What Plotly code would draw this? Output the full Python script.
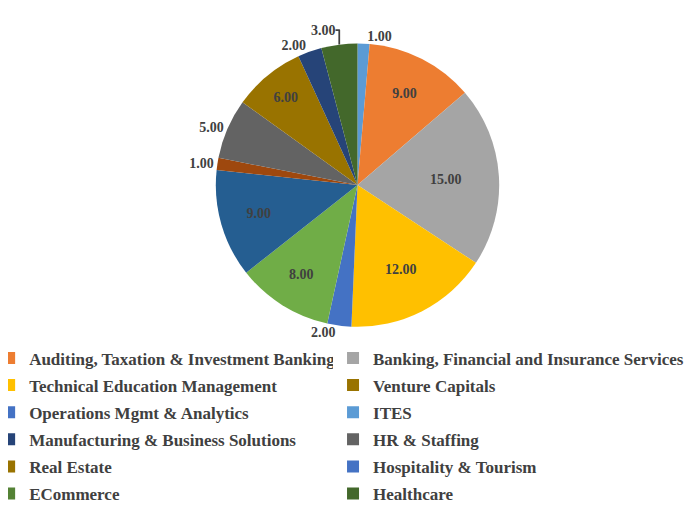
import plotly.graph_objects as go

# Pie slices (clockwise from 12 o'clock)
slice_labels = ["ITES", "Auditing, Taxation & Investment Banking",
                "Banking, Financial and Insurance Services", "Technical Education Management",
                "Operations Mgmt & Analytics", "ECommerce", "Hospitality & Tourism",
                "Venture Capitals", "HR & Staffing", "Real Estate",
                "Manufacturing & Business Solutions", "Healthcare"]
slice_values = [1, 9, 15, 12, 2, 8, 9, 1, 5, 6, 2, 3]
slice_colors = ["#5B9BD5", "#ED7D31", "#A5A5A5", "#FFC000", "#4472C4", "#70AD47",
                "#255E91", "#9E480E", "#636363", "#997300", "#264478", "#43682B"]
slice_textpos = ["outside", "inside", "inside", "inside", "outside", "inside",
                 "inside", "outside", "outside", "inside", "outside", "outside"]

# Legend entries, left column then right column
legend_left = ["Auditing, Taxation & Investment Banking", "Technical Education Management",
               "Operations Mgmt & Analytics", "Manufacturing & Business Solutions",
               "Real Estate", "ECommerce"]
legend_left_colors = ["#ED7D31", "#FFC000", "#4472C4", "#264478", "#997300", "#548235"]
legend_right = ["Banking, Financial and Insurance Services", "Venture Capitals", "ITES",
                "HR & Staffing", "Hospitality & Tourism", "Healthcare"]
legend_right_colors = ["#A5A5A5", "#997300", "#5B9BD5", "#636363", "#4472C4", "#43682B"]

fig = go.Figure()
fig.add_trace(go.Pie(
    labels=slice_labels, values=slice_values, sort=False, direction="clockwise",
    rotation=0, marker=dict(colors=slice_colors, line=dict(width=0)),
    texttemplate="%{value:.2f}", textposition=slice_textpos,
    textfont=dict(family="Liberation Serif", size=14, color="#404040", weight="bold"),
    insidetextfont=dict(family="Liberation Serif", size=14, color="#404040", weight="bold"),
    outsidetextfont=dict(family="Liberation Serif", size=14, color="#404040", weight="bold"),
    showlegend=False, hoverinfo="label+value",
    domain=dict(x=[0.0, 1.0], y=[0.37, 0.93]),
))
for i, (name, col) in enumerate(zip(legend_left, legend_left_colors)):
    fig.add_trace(go.Scatter(x=[None], y=[None], mode="markers", name=name,
                             legend="legend", legendgroup=f"L{i}",
                             marker=dict(symbol="square", size=12, color=col)))
for i, (name, col) in enumerate(zip(legend_right, legend_right_colors)):
    fig.add_trace(go.Scatter(x=[None], y=[None], mode="markers", name=name,
                             legend="legend2", legendgroup=f"R{i}",
                             marker=dict(symbol="square", size=12, color=col)))

legend_font = dict(family="Liberation Serif", size=17, color="#404040", weight="bold")
fig.update_layout(
    width=699, height=506, margin=dict(l=0, r=0, t=0, b=0, autoexpand=False),
    paper_bgcolor="white", plot_bgcolor="white",
    xaxis=dict(visible=False), yaxis=dict(visible=False),
    legend=dict(x=-0.027, y=0.343, xanchor="left", yanchor="top", itemwidth=30,
                font=legend_font, traceorder="grouped", tracegroupgap=2),
    legend2=dict(x=0.465, y=0.343, xanchor="left", yanchor="top", itemwidth=30,
                 font=legend_font, traceorder="grouped", tracegroupgap=2),
)
fig.write_html("out.html")
